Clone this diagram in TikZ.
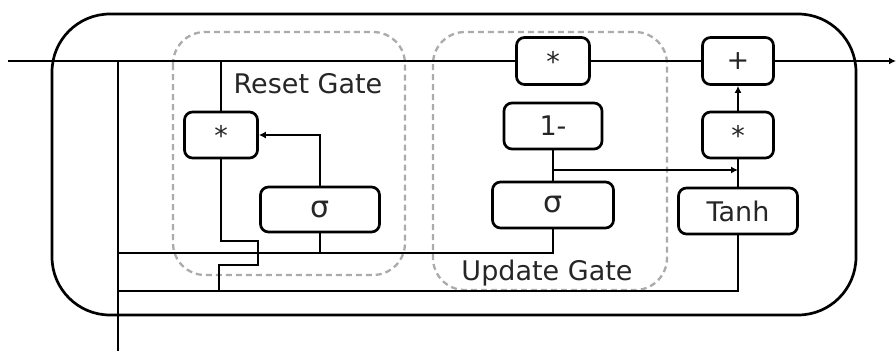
\documentclass[tikz,border=0pt]{standalone}
\usepackage{fontspec}
\setmainfont{DejaVu Sans}
\usetikzlibrary{arrows.meta}
\begin{document}
\begin{tikzpicture}[x=1pt,y=-1pt,
  wire/.style={line width=2.7pt,black},
  arr/.style={wire,-{Latex[length=7pt,width=7pt]}},
  opbox/.style={draw,line width=2.7pt,rounded corners=8pt,fill=white,inner sep=0pt,text=black!85,font=\fontsize{27}{29}\selectfont},
  gatebox/.style={draw=black!33,line width=2.3pt,dash pattern=on 6pt off 4pt,rounded corners=32pt},
  gatelabel/.style={font=\fontsize{27}{29}\selectfont,text=black!85,inner sep=0pt}]
\useasboundingbox (0,0) rectangle (896,351);
% outer cell
\draw[wire,rounded corners=58pt] (52,14) rectangle (856,315);
% gate regions
\draw[gatebox] (173,32) rectangle (405,275);
\draw[gatebox] (433,32) rectangle (667,290);
\node[gatelabel] (rlab) at (308,84) {Reset Gate};
\node[gatelabel] (ulab) at (547,273) {Update Gate};
% nodes
\node[opbox,minimum width=73pt,minimum height=46pt] (rstar) at (221,135) {*};
\node[opbox,minimum width=119pt,minimum height=45pt,font=\fontsize{30}{30}\selectfont] (rsig) at (320,209.5) {σ};
\node[opbox,minimum width=73pt,minimum height=47pt] (ustar) at (553,61) {*};
\node[opbox,minimum width=98pt,minimum height=46pt] (one) at (553,126) {1-};
\node[opbox,minimum width=121pt,minimum height=46pt,font=\fontsize{30}{30}\selectfont] (usig) at (553,205) {σ};
\node[opbox,minimum width=71pt,minimum height=47pt] (plus) at (738,61) {+};
\node[opbox,minimum width=71pt,minimum height=46pt] (mstar) at (738,135) {*};
\node[opbox,minimum width=119pt,minimum height=46pt] (tanh) at (738,211) {Tanh};
% coordinates
\coordinate (hin) at (8,61);
\coordinate (hout) at (896,61);
\coordinate (vtop) at (118,61);
\coordinate (vbot) at (118,351);
\coordinate (rtop) at (221,61);
\coordinate (l1a) at (118,253);
\coordinate (l1b) at (553,253);
\coordinate (l2a) at (118,291);
\coordinate (l2b) at (738,291);
\coordinate (rsb) at (320,253);
\coordinate (jA) at (219,241);
\coordinate (jB) at (258,241);
\coordinate (jC) at (258,265);
\coordinate (jD) at (219,265);
\coordinate (jE) at (219,291);
\coordinate (br) at (553,170);
\coordinate (brend) at (738,170);
% wires
\draw[wire] (hin) -- (ustar.west);
\draw[wire] (ustar.east) -- (plus.west);
\draw[arr] (plus.east) -- (hout);
\draw[wire] (vtop) -- (vbot);
\draw[wire] (rtop) -- (rstar.north);
\draw[wire] (rstar.south) -- (rstar.south |- jA) -- (jB) -- (jC) -- (jD) -- (jE);
\draw[arr] (rsig.north) |- (rstar.east);
\draw[wire] (rsig.south) -- (rsb);
\draw[wire] (l1a) -- (l1b) -- (usig.south);
\draw[wire] (l2a) -- (l2b) -- (tanh.south);
\draw[wire] (usig.north) -- (one.south);
\draw[arr] (br) -- (brend);
\draw[wire] (tanh.north) -- (mstar.south);
\draw[arr] (mstar.north) -- (plus.south);
\end{tikzpicture}
\end{document}
